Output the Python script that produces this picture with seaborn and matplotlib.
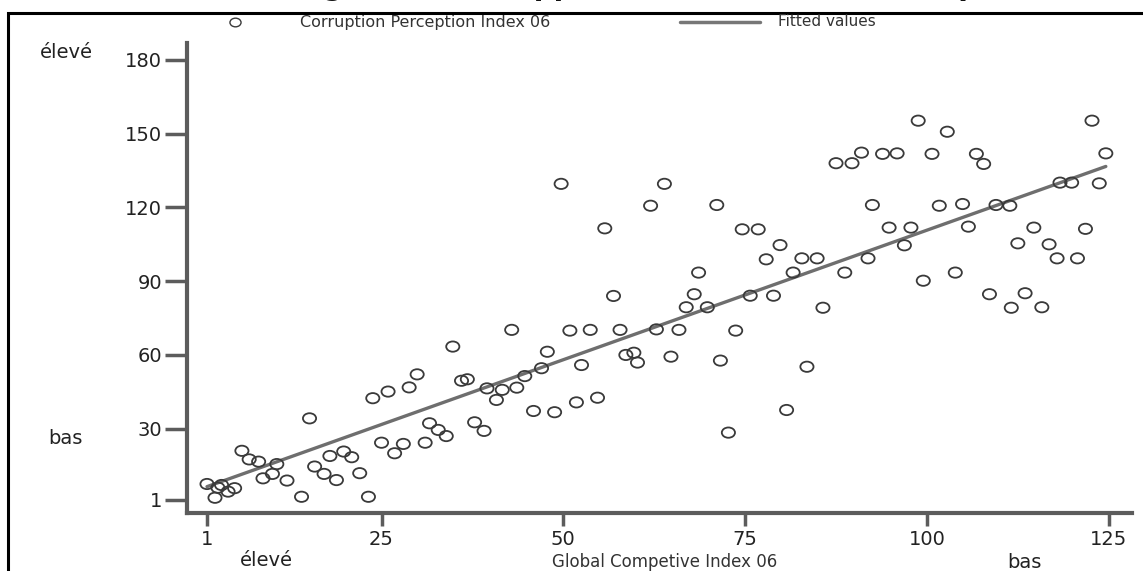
import matplotlib
matplotlib.use("Agg")
import matplotlib.pyplot as plt
import seaborn as sns
import pandas as pd
from matplotlib.patches import Rectangle
from matplotlib.lines import Line2D
from matplotlib.path import Path

# Global Competitive Index 06 rank (x) and Corruption Perception Index 06 rank (y)
gci_rank = [1, 2.1, 2.5, 3, 3.9, 4.8, 5.8, 6.8, 8.1, 8.7, 10, 10.6, 12, 14, 15.1, 15.8,
            17.1, 17.9, 18.8, 19.8, 20.9, 22, 23.2, 23.8, 25, 25.9, 26.8, 28, 28.8, 29.9,
            31, 31.6, 32.8, 33.9, 34.8, 36, 36.8, 37.8, 39.1, 39.5, 40.8, 41.6, 42.9, 43.6,
            44.7, 45.9, 47, 47.8, 48.8, 49.7, 50.9, 51.8, 52.5, 53.7, 54.7, 55.7, 56.9, 57.8,
            58.6, 59.7, 60.2, 62, 62.8, 63.9, 64.8, 65.9, 66.9, 68, 68.6, 69.8, 71.1, 71.6,
            72.7, 73.7, 74.6, 75.7, 76.8, 77.9, 78.9, 79.8, 80.7, 81.6, 82.8, 83.5, 84.9,
            85.7, 87.5, 88.7, 89.7, 91, 91.9, 92.5, 93.9, 94.8, 95.9, 96.9, 97.8, 98.8, 99.5,
            100.7, 101.7, 102.8, 103.9, 104.9, 105.7, 106.8, 107.8, 108.6, 109.5, 111.4,
            111.6, 112.5, 113.5, 114.7, 115.8, 116.8, 117.9, 118.3, 119.9, 120.7, 121.8,
            122.7, 123.7, 124.6]
cpi_rank = [7.5, 1.9, 6.0, 7.1, 4.4, 5.8, 21, 17.5, 16.6, 9.8, 11.6, 15.6, 8.9, 2.3, 34.2, 14.6,
            11.6, 18.9, 9.1, 20.7, 18.4, 11.9, 2.3, 42.4, 24.3, 45.1, 20, 23.8, 46.8, 52.1,
            24.3, 32.2, 29.5, 27, 63.4, 49.5, 50.1, 32.6, 29.1, 46.4, 41.7, 45.8, 70.2, 46.7,
            51.4, 37.2, 54.6, 61.3, 36.7, 129.6, 69.9, 40.7, 55.9, 70.2, 42.6, 111.5, 84, 70.2,
            60, 60.9, 56.9, 120.7, 70.4, 129.6, 59.3, 70.2, 79.4, 84.7, 93.5, 79.4, 121, 57.7,
            28.4, 69.9, 111.1, 84.1, 111.1, 98.9, 84.1, 104.7, 37.6, 93.5, 99.3, 55.2, 99.3,
            79.2, 138, 93.5, 138, 142.3, 99.3, 121, 141.8, 111.8, 142, 104.6, 111.8, 155.3, 90.2,
            141.8, 120.7, 150.8, 93.5, 121.4, 112.2, 141.8, 137.7, 84.7, 121, 120.7,
            79.2, 105.4, 85.1, 111.8, 79.4, 105, 99.3, 130.1, 130.1, 99.3, 111.3,
            155.3, 129.8, 142]

x_ticks = [1, 25, 50, 75, 100, 125]
y_ticks = [1, 30, 60, 90, 120, 150, 180]

title_text = "Figure 7 : Le rapport entre l'indice de compétitivité et l'indice de corruption"
legend_scatter = "Corruption Perception Index 06"
legend_fit = "Fitted values"
x_title = "Global Competive Index 06"
high_label = "élevé"
low_label = "bas"

sns.set_theme(style="white")
plt.rcParams['font.family'] = ['DejaVu Sans']

W, H = 1143, 571
fig = plt.figure(figsize=(W / 100, H / 100), dpi=100)
ax = fig.add_axes([187 / W, 1 - 513 / H, (1132 - 187) / W, (513 - 43) / H])

df = pd.DataFrame({"gci": gci_rank, "cpi": cpi_rank})

circ = Path.unit_circle()
ellipse = Path(circ.vertices * [1.0, 0.78], circ.codes)

sns.regplot(data=df, x="gci", y="cpi", ci=None, scatter=False, truncate=True,
            line_kws=dict(color="#6e6e6e", lw=2.4), ax=ax)
sns.scatterplot(data=df, x="gci", y="cpi", marker=ellipse, s=90, facecolors="none",
                edgecolor="#3a3a3a", linewidth=1.3, ax=ax, zorder=3)

ax.set_xlim(-1.75, 128.2)
ax.set_ylim(-4.3, 186.9)
ax.set_xticks(x_ticks)
ax.set_yticks(y_ticks)
ax.set_xlabel("")
ax.set_ylabel("")
for s in ["top", "right"]:
    ax.spines[s].set_visible(False)
for s in ["left", "bottom"]:
    ax.spines[s].set_color("#5c5c5c")
    ax.spines[s].set_linewidth(3)
ax.tick_params(axis="y", direction="out", length=16, width=2.5, color="#5c5c5c",
               pad=2, labelsize=14, labelcolor="#222222", left=True)
ax.tick_params(axis="x", direction="out", length=9, width=2.5, color="#5c5c5c",
               pad=3, labelsize=14, labelcolor="#222222", bottom=True)

# outer frame
fig.add_artist(Rectangle((8 / W, -0.05), 1.1, 1 - 13 / H + 0.05, transform=fig.transFigure,
                         fill=False, edgecolor="black", lw=2.2))

# title, cut off by the top edge as in the source image (only descenders show)
fig.text(295 / W, 1 - 1 / H, title_text, fontsize=20, fontweight="bold",
         ha="left", va="bottom", color="#111111")

# legend row
ly = 1 - 22 / H
fig.add_artist(Line2D([235 / W], [ly], marker=ellipse, ms=8, mfc="none", mec="#3a3a3a",
                      mew=1.0, transform=fig.transFigure))
fig.text(300 / W, ly, legend_scatter, fontsize=11.5, ha="left", va="center", color="#333333")
fig.add_artist(Line2D([680 / W, 760 / W], [ly, ly], color="#777777", lw=2.5,
                      transform=fig.transFigure))
fig.text(778 / W, ly, legend_fit, fontsize=11, ha="left", va="center", color="#333333")

# axis annotations
fig.text(40 / W, 1 - 53 / H, high_label, fontsize=14, ha="left", va="center", color="#222222")
fig.text(48 / W, 1 - 439 / H, low_label, fontsize=14, ha="left", va="center", color="#222222")
fig.text(240 / W, 1 - 561 / H, high_label, fontsize=14, ha="left", va="center", color="#222222")
fig.text(665 / W, 1 - 562 / H, x_title, fontsize=12, ha="center", va="center", color="#333333")
fig.text(1007 / W, 1 - 562 / H, low_label, fontsize=14, ha="left", va="center", color="#222222")

fig.savefig("out.png", dpi=100)
